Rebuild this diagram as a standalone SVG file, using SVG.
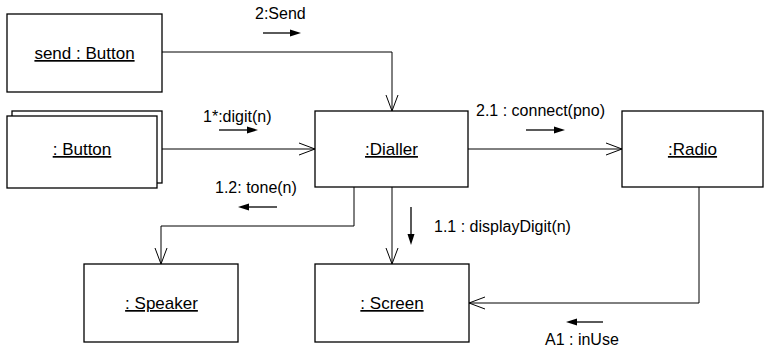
<svg xmlns="http://www.w3.org/2000/svg" width="766" height="349" viewBox="0 0 766 349">
<style>
.box{fill:#fff;stroke:#000;stroke-width:1.3}
.lbl{font-family:"Liberation Sans",Arial,sans-serif;font-size:17px;text-anchor:middle;text-decoration:underline;fill:#000}
.msg{font-family:"Liberation Sans",Arial,sans-serif;font-size:16px;fill:#000}
.ln{fill:none;stroke:#000;stroke-width:1}
.open{fill:none;stroke:#000;stroke-width:1}
.ma{stroke:#000;stroke-width:1.3;fill:none}
.tri{fill:#000}
</style>
<rect width="766" height="349" fill="#fff"/>
<g id="send-button">
<rect class="box" x="7" y="14" width="155" height="78"/>
<text class="lbl" x="84.5" y="59">send : Button</text>
</g>
<g id="button">
<rect class="box" x="12" y="111" width="150" height="72"/>
<rect class="box" x="7" y="116" width="150" height="72"/>
<text class="lbl" x="82" y="155">: Button</text>
</g>
<g id="dialler">
<rect class="box" x="315" y="111" width="153" height="76"/>
<text class="lbl" x="391.5" y="155">:Dialler</text>
</g>
<g id="radio">
<rect class="box" x="622" y="111" width="141" height="76"/>
<text class="lbl" x="692.5" y="155">:Radio</text>
</g>
<g id="speaker">
<rect class="box" x="84" y="264" width="154" height="78"/>
<text class="lbl" x="161.5" y="309">: Speaker</text>
</g>
<g id="screen">
<rect class="box" x="315" y="264" width="154" height="78"/>
<text class="lbl" x="392" y="309">: Screen</text>
</g>
<g id="connectors">
<polyline class="ln" points="162,52 392,52 392,111"/>
<polyline class="open" points="386,95 392,111 398,95"/>
<line class="ln" x1="162" y1="149" x2="315" y2="149"/>
<polyline class="open" points="299,143 315,149 299,155"/>
<line class="ln" x1="468" y1="149" x2="622" y2="149"/>
<polyline class="open" points="606,143 622,149 606,155"/>
<polyline class="ln" points="354,187 354,226 161,226 161,264"/>
<polyline class="open" points="155,248 161,264 167,248"/>
<line class="ln" x1="392" y1="187" x2="392" y2="264"/>
<polyline class="open" points="386,248 392,264 398,248"/>
<polyline class="ln" points="699,187 699,303 469,303"/>
<polyline class="open" points="485,297 469,303 485,309"/>
</g>
<g id="messages">
<text class="msg" x="255" y="19">2:Send</text>
<line class="ma" x1="263" y1="33" x2="292" y2="33"/>
<polygon class="tri" points="290,29.5 301,33 290,36.5"/>
<text class="msg" x="203" y="122">1*:digit(n)</text>
<line class="ma" x1="219" y1="130" x2="249" y2="130"/>
<polygon class="tri" points="247,126.5 258,130 247,133.5"/>
<text class="msg" x="476" y="116">2.1 : connect(pno)</text>
<line class="ma" x1="526" y1="130" x2="556" y2="130"/>
<polygon class="tri" points="554,126.5 565,130 554,133.5"/>
<text class="msg" x="215" y="193">1.2: tone(n)</text>
<line class="ma" x1="247" y1="207" x2="277" y2="207"/>
<polygon class="tri" points="249,203.5 238,207 249,210.5"/>
<text class="msg" x="434" y="232">1.1 : displayDigit(n)</text>
<line class="ma" x1="411" y1="207" x2="411" y2="236"/>
<polygon class="tri" points="407.5,234 411,245 414.5,234"/>
<text class="msg" x="545" y="345">A1 : inUse</text>
<line class="ma" x1="575" y1="322" x2="603" y2="322"/>
<polygon class="tri" points="577,318.5 566,322 577,325.5"/>
</g>
</svg>
